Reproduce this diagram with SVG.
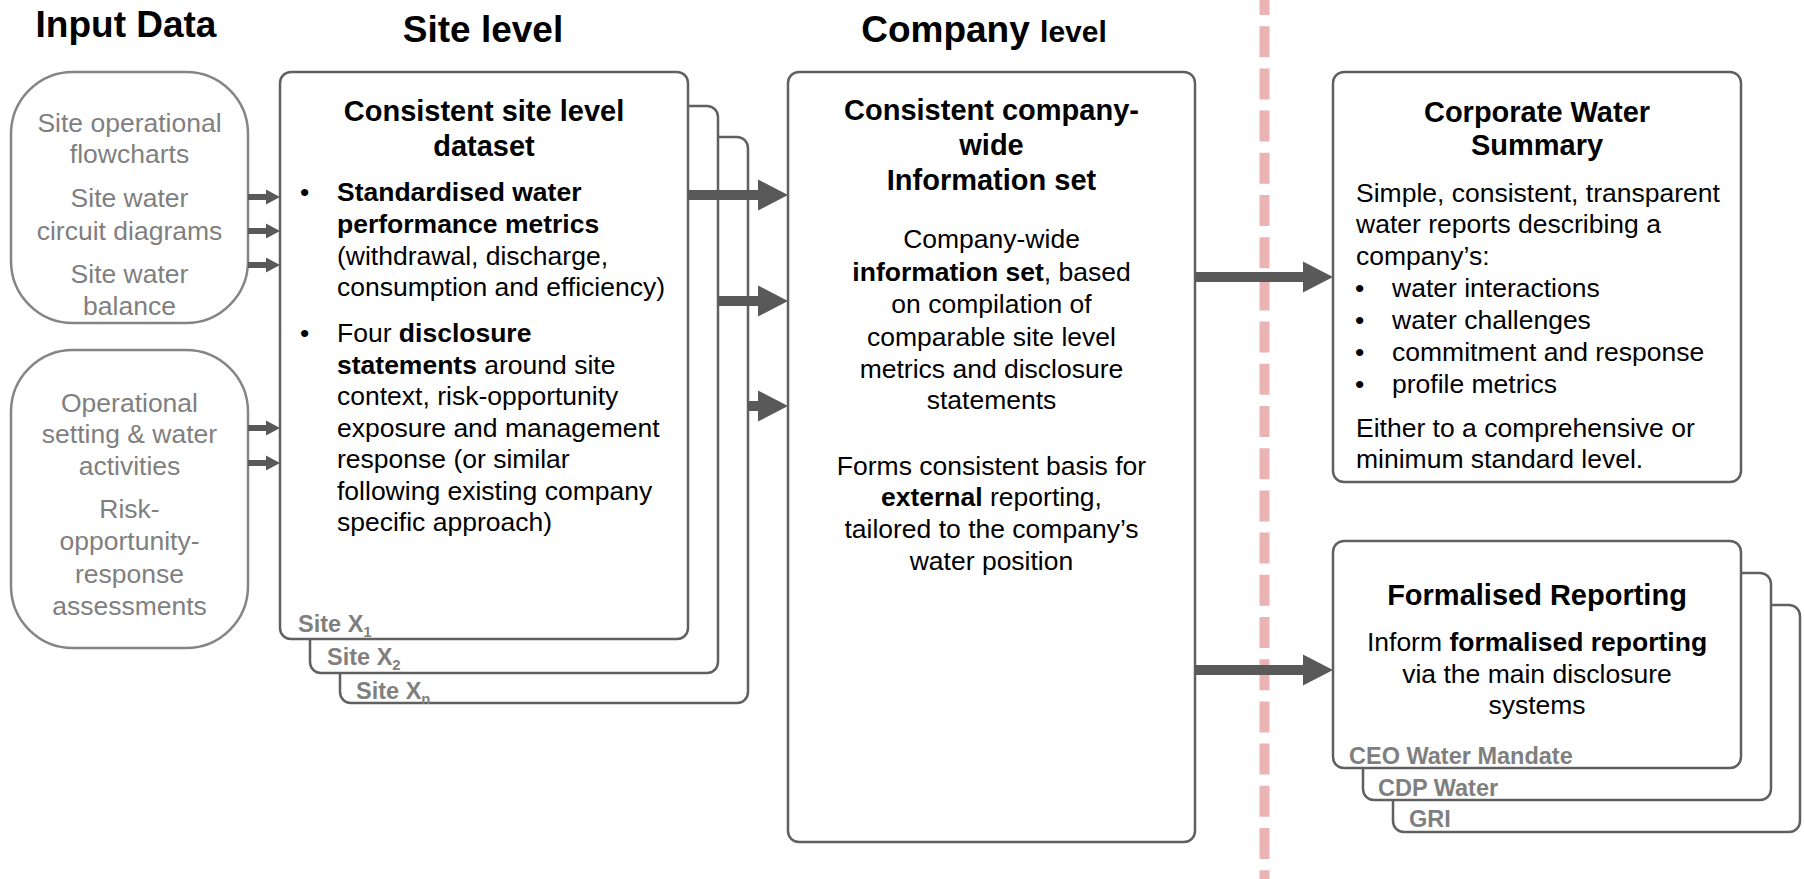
<svg xmlns="http://www.w3.org/2000/svg" width="1804" height="879" viewBox="0 0 1804 879">
<style>
text { font-family: "Liberation Sans", Arial, Helvetica, sans-serif; }
.title { font-size: 37px; font-weight: bold; fill: #000; text-anchor: middle; }
.h { font-size: 29px; font-weight: bold; fill: #000; text-anchor: middle; }
.b { font-size: 26.5px; fill: #000; }
.c { text-anchor: middle; }
.g { font-size: 26.5px; fill: #7f7f7f; text-anchor: middle; }
.lbl { font-size: 23.5px; font-weight: bold; fill: #7f7f7f; }
.sub { font-size: 15px; }
.bold { font-weight: bold; }
.box { fill: #fff; stroke: #606060; stroke-width: 2.5; }
.inbox { fill: #fff; stroke: #858585; stroke-width: 2.5; }
.arr { fill: #595959; }
</style>
<rect width="1804" height="879" fill="#fff"/>

<!-- titles -->
<text class="title" x="126" y="37">Input Data</text>
<text class="title" x="483" y="42">Site level</text>
<text class="title" x="984" y="42">Company <tspan style="font-size:30px">level</tspan></text>

<!-- divider -->
<line x1="1264.5" y1="-16" x2="1264.5" y2="879" stroke="#eab4b4" stroke-width="10" stroke-dasharray="31 11.2"/>

<!-- input nodes -->
<g id="input-site-data">
<rect class="inbox" x="11" y="72" width="237" height="251" rx="62" ry="62"/>
<text class="g" x="129.5" y="132">Site operational</text>
<text class="g" x="129.5" y="163">flowcharts</text>
<text class="g" x="129.5" y="207">Site water</text>
<text class="g" x="129.5" y="240">circuit diagrams</text>
<text class="g" x="129.5" y="283">Site water</text>
<text class="g" x="129.5" y="315">balance</text>
</g>
<g id="input-context-data">
<rect class="inbox" x="11" y="350" width="237" height="298" rx="62" ry="62"/>
<text class="g" x="129.5" y="412">Operational</text>
<text class="g" x="129.5" y="443">setting &amp; water</text>
<text class="g" x="129.5" y="475">activities</text>
<text class="g" x="129.5" y="518">Risk-</text>
<text class="g" x="129.5" y="550">opportunity-</text>
<text class="g" x="129.5" y="583">response</text>
<text class="g" x="129.5" y="615">assessments</text>
</g>

<!-- site level stack -->
<g id="site-dataset">
<rect class="box" x="340" y="137" width="408" height="566" rx="11"/>
<rect class="box" x="310" y="106" width="408" height="567" rx="11"/>
<rect class="box" x="280" y="72" width="408" height="567" rx="11"/>
<text class="h" x="484" y="121">Consistent site level</text>
<text class="h" x="484" y="156">dataset</text>
<text class="b" x="300" y="201">•</text>
<text class="b bold" x="337" y="201">Standardised water</text>
<text class="b bold" x="337" y="233">performance metrics</text>
<text class="b" x="337" y="265">(withdrawal, discharge,</text>
<text class="b" x="337" y="296">consumption and efficiency)</text>
<text class="b" x="300" y="342">•</text>
<text class="b" x="337" y="342">Four <tspan class="bold">disclosure</tspan></text>
<text class="b" x="337" y="374"><tspan class="bold">statements</tspan> around site</text>
<text class="b" x="337" y="405">context, risk-opportunity</text>
<text class="b" x="337" y="437">exposure and management</text>
<text class="b" x="337" y="468">response (or similar</text>
<text class="b" x="337" y="500">following existing company</text>
<text class="b" x="337" y="531">specific approach)</text>
<text class="lbl" x="298" y="632">Site X<tspan class="sub" dy="5">1</tspan></text>
<text class="lbl" x="327" y="665">Site X<tspan class="sub" dy="5">2</tspan></text>
<text class="lbl" x="356" y="699">Site X<tspan class="sub" dy="5">n</tspan></text>
</g>

<!-- company level -->
<g id="company-info-set">
<rect class="box" x="788" y="72" width="407" height="770" rx="11"/>
<text class="h" x="991.5" y="120">Consistent company-</text>
<text class="h" x="991.5" y="155">wide</text>
<text class="h" x="991.5" y="190">Information set</text>
<text class="b c" x="991.5" y="248">Company-wide</text>
<text class="b c" x="991.5" y="281"><tspan class="bold">information set</tspan>, based</text>
<text class="b c" x="991.5" y="313">on compilation of</text>
<text class="b c" x="991.5" y="346">comparable site level</text>
<text class="b c" x="991.5" y="378">metrics and disclosure</text>
<text class="b c" x="991.5" y="409">statements</text>
<text class="b c" x="991.5" y="475">Forms consistent basis for</text>
<text class="b c" x="991.5" y="506"><tspan class="bold">external</tspan> reporting,</text>
<text class="b c" x="991.5" y="538">tailored to the company’s</text>
<text class="b c" x="991.5" y="570">water position</text>
</g>

<!-- corporate water summary -->
<g id="corporate-water-summary">
<rect class="box" x="1333" y="72" width="408" height="410" rx="11"/>
<text class="h" x="1537" y="122">Corporate Water</text>
<text class="h" x="1537" y="155">Summary</text>
<text class="b" x="1356" y="202">Simple, consistent, transparent</text>
<text class="b" x="1356" y="233">water reports describing a</text>
<text class="b" x="1356" y="265">company’s:</text>
<text class="b" x="1355" y="297">•</text>
<text class="b" x="1392" y="297">water interactions</text>
<text class="b" x="1355" y="329">•</text>
<text class="b" x="1392" y="329">water challenges</text>
<text class="b" x="1355" y="361">•</text>
<text class="b" x="1392" y="361">commitment and response</text>
<text class="b" x="1355" y="393">•</text>
<text class="b" x="1392" y="393">profile metrics</text>
<text class="b" x="1356" y="437">Either to a comprehensive or</text>
<text class="b" x="1356" y="468">minimum standard level.</text>
</g>

<!-- formalised reporting stack -->
<g id="formalised-reporting">
<rect class="box" x="1393" y="605" width="407" height="227" rx="11"/>
<rect class="box" x="1363" y="573" width="408" height="227" rx="11"/>
<rect class="box" x="1333" y="541" width="408" height="227" rx="11"/>
<text class="h" x="1537" y="605">Formalised Reporting</text>
<text class="b c" x="1537" y="651">Inform <tspan class="bold">formalised reporting</tspan></text>
<text class="b c" x="1537" y="683">via the main disclosure</text>
<text class="b c" x="1537" y="714">systems</text>
<text class="lbl" x="1349" y="764">CEO Water Mandate</text>
<text class="lbl" x="1378" y="796">CDP Water</text>
<text class="lbl" x="1409" y="827">GRI</text>
</g>

<!-- connectors -->
<g id="connectors" class="arr">
<polygon points="248,194 266,194 266,189.5 280,197 266,204.5 266,200 248,200"/>
<polygon points="248,228 266,228 266,223.5 280,231 266,238.5 266,234 248,234"/>
<polygon points="248,262 266,262 266,257.5 280,265 266,272.5 266,268 248,268"/>
<polygon points="248,425 266,425 266,420.5 280,428 266,435.5 266,431 248,431"/>
<polygon points="248,460 266,460 266,455.5 280,463 266,470.5 266,466 248,466"/>
<polygon points="688,190 758,190 758,179.5 788,195 758,210.5 758,200 688,200"/>
<polygon points="718,296 758,296 758,285.5 788,301 758,316.5 758,306 718,306"/>
<polygon points="748,401 758,401 758,390.5 788,406 758,421.5 758,411 748,411"/>
<polygon points="1195,272 1303,272 1303,261.5 1333,277 1303,292.5 1303,282 1195,282"/>
<polygon points="1195,665 1303,665 1303,654.5 1333,670 1303,685.5 1303,675 1195,675"/>
</g>
</svg>
